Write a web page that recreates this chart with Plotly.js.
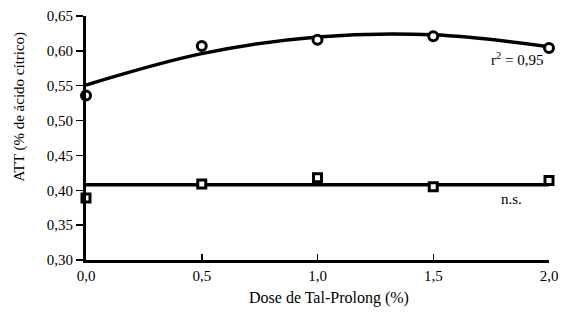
<!DOCTYPE html>
<html>
<head>
<meta charset="utf-8">
<script src="https://cdn.plot.ly/plotly-3.0.1.min.js"></script>
<style>html,body{margin:0;padding:0;background:#fff;}#chart{width:561px;height:320px;}</style>
</head>
<body>
<div id="chart"></div>
<script>
// Doses (%)
var doses = [0.0, 0.5, 1.0, 1.5, 2.0];
// ATT observed (circles)
var attCircles = [0.536, 0.607, 0.616, 0.621, 0.604];
// Fitted quadratic curve at each dose
var attCurve = [0.551, 0.596, 0.620, 0.623, 0.606];
// ATT observed (squares)
var attSquares = [0.389, 0.409, 0.418, 0.405, 0.414];
// Non-significant mean line (ends)
var meanX = [0.0, 2.0];
var meanLine = [0.408, 0.408];

var xTicks = [0.0, 0.5, 1.0, 1.5, 2.0];
var xTickText = ['0,0', '0,5', '1,0', '1,5', '2,0'];
var yTicks = [0.30, 0.35, 0.40, 0.45, 0.50, 0.55, 0.60, 0.65];
var yTickText = ['0,30', '0,35', '0,40', '0,45', '0,50', '0,55', '0,60', '0,65'];

var F = 'Liberation Serif, Times New Roman, serif';

var traces = [
  {x: doses, y: attCurve, mode: 'lines', line: {color: '#000', width: 3.5, shape: 'spline'}, cliponaxis: false, hoverinfo: 'skip'},
  {x: meanX, y: meanLine, mode: 'lines', line: {color: '#000', width: 3.5}, cliponaxis: false, hoverinfo: 'skip'},
  {x: doses, y: attCircles, mode: 'markers', cliponaxis: false,
   marker: {symbol: 'circle', size: 9, color: '#fff', line: {color: '#000', width: 3}}},
  {x: doses, y: attSquares, mode: 'markers', cliponaxis: false,
   marker: {symbol: 'square', size: 8, color: '#fff', line: {color: '#000', width: 3}}}
];

var layout = {
  width: 561, height: 320,
  margin: {l: 86, r: 12, t: 16, b: 60},
  paper_bgcolor: '#fff', plot_bgcolor: '#fff',
  showlegend: false,
  font: {family: F, size: 15, color: '#000'},
  xaxis: {
    range: [0, 2], tickvals: xTicks, ticktext: xTickText,
    showgrid: false, zeroline: false, showline: true, linecolor: '#000', linewidth: 3,
    ticks: 'inside', ticklen: 6, tickwidth: 1.5, tickcolor: '#000',
    tickfont: {family: F, size: 15, color: '#000'}
  },
  yaxis: {
    range: [0.30, 0.65], tickvals: yTicks, ticktext: yTickText,
    showgrid: false, zeroline: false, showline: true, linecolor: '#000', linewidth: 3,
    ticks: 'outside', ticklen: 7, tickwidth: 1.5, tickcolor: '#000',
    tickfont: {family: F, size: 15, color: '#000'}
  },
  annotations: [
    {xref: 'paper', yref: 'paper', x: -0.1425, y: 0.629, text: 'ATT (% de ácido cítrico)', textangle: -90,
     showarrow: false, xanchor: 'center', yanchor: 'middle', font: {family: F, size: 15, color: '#000'}},
    {xref: 'paper', yref: 'paper', x: 0.525, y: -0.156, text: 'Dose de Tal-Prolong (%)',
     showarrow: false, xanchor: 'center', yanchor: 'middle', font: {family: F, size: 16, color: '#000'}},
    {xref: 'x', yref: 'y', x: 1.862, y: 0.588, text: 'r<sup>2</sup> = 0,95',
     showarrow: false, xanchor: 'center', yanchor: 'middle', font: {family: F, size: 15, color: '#000'}},
    {xref: 'x', yref: 'y', x: 1.836, y: 0.387, text: 'n.s.',
     showarrow: false, xanchor: 'center', yanchor: 'middle', font: {family: F, size: 15, color: '#000'}}
  ]
};

Plotly.newPlot('chart', traces, layout, {displayModeBar: false, staticPlot: true});
</script>
</body>
</html>
